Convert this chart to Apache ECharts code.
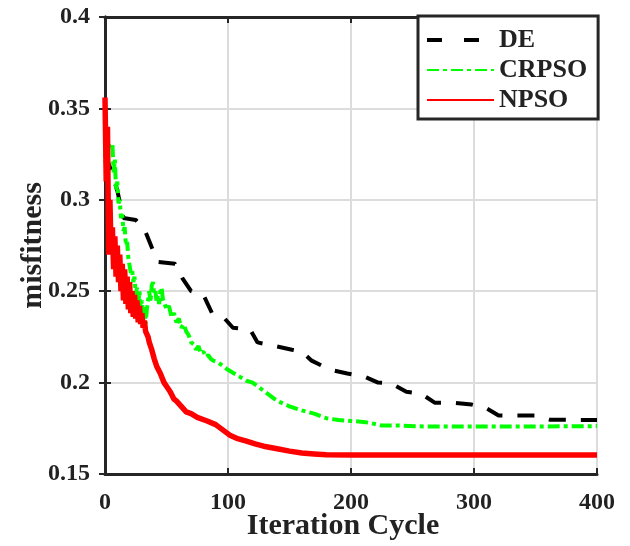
<!DOCTYPE html>
<html>
<head>
<meta charset="utf-8">
<script src="https://cdn.jsdelivr.net/npm/echarts@6/dist/echarts.min.js"></script>
<style>html,body{margin:0;padding:0;background:#fff;}#c{width:630px;height:546px;}</style>
</head>
<body>
<div id="c"></div>
<script>
// ---- data ----
const seriesNames = ['DE', 'CRPSO', 'NPSO'];
const xTicks = [0, 100, 200, 300, 400];
const yTicks = [0.15, 0.2, 0.25, 0.3, 0.35, 0.4];

const deIter = [0, 5, 10, 15, 25, 32, 38, 43, 57, 63, 70, 80, 87, 96, 104, 118, 124, 138, 152, 160, 168, 183, 197, 212, 222, 233, 245, 257, 268, 283, 298, 310, 320, 350, 362, 400];
const deVal = [0.325, 0.316, 0.305, 0.290, 0.289, 0.284, 0.274, 0.266, 0.265, 0.257, 0.250, 0.248, 0.238, 0.236, 0.230, 0.229, 0.222, 0.220, 0.218, 0.217, 0.212, 0.207, 0.205, 0.203, 0.200, 0.1995, 0.195, 0.194, 0.189, 0.189, 0.188, 0.186, 0.182, 0.182, 0.1797, 0.1795];

const crIter = [0, 2, 4, 6, 7, 8, 9, 10, 11, 12, 13, 14, 15, 16, 17, 18, 19, 20, 21, 22, 23, 24, 25, 26, 27, 28, 29, 30, 31, 32, 33, 34, 35, 36, 37, 38, 39, 40, 41, 42, 43, 44, 45, 46, 47, 48, 50, 52, 54, 56, 58, 60, 62, 64, 66, 68, 70, 72, 74, 76, 78, 80, 82, 84, 86, 88, 92, 96, 100, 105, 110, 115, 120, 130, 140, 150, 160, 170, 180, 190, 200, 210, 215, 225, 240, 260, 300, 350, 400];
const crVal = [0.320, 0.325, 0.330, 0.331, 0.315, 0.322, 0.305, 0.310, 0.298, 0.300, 0.290, 0.292, 0.283, 0.285, 0.275, 0.277, 0.268, 0.268, 0.260, 0.262, 0.255, 0.258, 0.248, 0.252, 0.243, 0.250, 0.240, 0.245, 0.236, 0.242, 0.232, 0.240, 0.245, 0.250, 0.244, 0.253, 0.255, 0.248, 0.250, 0.244, 0.248, 0.243, 0.250, 0.252, 0.246, 0.244, 0.240, 0.242, 0.236, 0.238, 0.233, 0.235, 0.230, 0.232, 0.228, 0.226, 0.222, 0.221, 0.218, 0.220, 0.216, 0.217, 0.214, 0.215, 0.213, 0.212, 0.211, 0.209, 0.207, 0.205, 0.203, 0.201, 0.200, 0.195, 0.190, 0.187, 0.1848, 0.183, 0.1805, 0.1795, 0.179, 0.1785, 0.178, 0.1765, 0.1765, 0.176, 0.176, 0.176, 0.1762];

const npIter = [0, 1, 2, 3, 4, 5, 6, 7, 8, 9, 10, 11, 12, 13, 14, 15, 16, 17, 18, 19, 20, 21, 22, 23, 24, 25, 26, 27, 28, 29, 30, 31, 32, 33, 34, 35, 36, 38, 40, 42, 45, 48, 50, 53, 56, 58, 62, 66, 70, 75, 83, 90, 96, 102, 107, 115, 122, 129, 140, 150, 160, 170, 180, 200, 250, 300, 400];
const npVal = [0.356, 0.310, 0.340, 0.270, 0.300, 0.270, 0.285, 0.262, 0.280, 0.258, 0.275, 0.255, 0.270, 0.250, 0.265, 0.245, 0.262, 0.243, 0.258, 0.240, 0.255, 0.238, 0.250, 0.236, 0.248, 0.235, 0.245, 0.233, 0.242, 0.232, 0.238, 0.230, 0.234, 0.228, 0.229, 0.225, 0.222, 0.218, 0.213, 0.209, 0.205, 0.200, 0.198, 0.195, 0.191, 0.190, 0.187, 0.184, 0.183, 0.181, 0.179, 0.177, 0.174, 0.171, 0.1695, 0.168, 0.1665, 0.1652, 0.1638, 0.1625, 0.1615, 0.161, 0.1605, 0.1604, 0.1604, 0.1604, 0.1604];

// ---- chart ----
const zip = (xs, ys) => xs.map((x, i) => [x, ys[i]]);
const FONT = 'Liberation Serif';
const TXT = '#222222';
const AX = '#262626';
const chart = echarts.init(document.getElementById('c'), null, { renderer: 'canvas' });

const fmtY = v => { const t = yTicks.find(k => Math.abs(k - v) < 1e-9); return t === undefined ? '' : String(t); };
const fmtX = v => { const t = xTicks.find(k => Math.abs(k - v) < 1e-9); return t === undefined ? '' : String(t); };

const lineAxis = { show: true, lineStyle: { color: AX, width: 3 } };
const tickAxis = { show: true, inside: true, length: 6, lineStyle: { color: AX, width: 2 } };

chart.setOption({
  animation: false,
  backgroundColor: '#ffffff',
  grid: { left: 105, right: 33, top: 17, bottom: 70, containLabel: false },
  legend: {
    orient: 'vertical',
    left: 418, top: 16,
    padding: [11, 11, 6, 7],
    itemGap: 4,
    itemWidth: 67,
    itemHeight: 14,
    backgroundColor: '#ffffff',
    borderColor: AX,
    borderWidth: 3,
    borderRadius: 0,
    data: [
      { name: seriesNames[0], lineStyle: { type: [15, 22], width: 4, cap: 'butt' } },
      { name: seriesNames[1] },
      { name: seriesNames[2] }
    ],
    itemStyle: { color: 'rgba(0,0,0,0)', borderWidth: 0, opacity: 0 },
    textStyle: { fontFamily: FONT, fontWeight: 'bold', fontSize: 26, color: TXT, padding: [0, 0, 0, 0] }
  },
  xAxis: [{
    type: 'value', min: 0, max: 400, interval: 100, position: 'bottom',
    name: 'Iteration Cycle', nameLocation: 'middle', nameGap: 37, nameMoveOverlap: false,
    nameTextStyle: { fontFamily: FONT, fontWeight: 'bold', fontSize: 30, color: TXT, padding: [0, 16, 0, 0] },
    axisLine: lineAxis, axisTick: tickAxis,
    axisLabel: { margin: 17, fontFamily: FONT, fontWeight: 'bold', fontSize: 24, color: TXT, formatter: fmtX },
    splitLine: { show: true, lineStyle: { color: '#dcdcdc', width: 2 } }
  }, {
    type: 'value', min: 0, max: 400, interval: 100, position: 'top',
    axisLine: lineAxis, axisTick: tickAxis, axisLabel: { show: false }, splitLine: { show: false }
  }],
  yAxis: [{
    type: 'value', min: 0.15, max: 0.4, interval: 0.05, position: 'left',
    name: 'misfitness', nameLocation: 'middle', nameGap: 57, nameMoveOverlap: false,
    nameTextStyle: { fontFamily: FONT, fontWeight: 'bold', fontSize: 30, color: TXT },
    axisLine: lineAxis, axisTick: tickAxis,
    axisLabel: { margin: 15, fontFamily: FONT, fontWeight: 'bold', fontSize: 24, color: TXT, formatter: fmtY },
    splitLine: { show: true, lineStyle: { color: '#dcdcdc', width: 2 } }
  }, {
    type: 'value', min: 0.15, max: 0.4, interval: 0.05, position: 'right',
    axisLine: lineAxis, axisTick: tickAxis, axisLabel: { show: false }, splitLine: { show: false }
  }],
  series: [{
    name: seriesNames[0], type: 'line', data: zip(deIter, deVal),
    showSymbol: false, symbol: 'none', color: '#000000',
    lineStyle: { color: '#000000', width: 4, type: [17, 15], cap: 'butt' }
  }, {
    name: seriesNames[1], type: 'line', data: zip(crIter, crVal),
    showSymbol: false, symbol: 'none', color: '#00ff00',
    lineStyle: { color: '#00ff00', width: 4, type: [12, 4, 4, 4], cap: 'butt' }
  }, {
    name: seriesNames[2], type: 'line', data: zip(npIter, npVal),
    showSymbol: false, symbol: 'none', color: '#ff0000',
    lineStyle: { color: '#ff0000', width: 5.5, type: 'solid' }
  }]
});
</script>
</body>
</html>
